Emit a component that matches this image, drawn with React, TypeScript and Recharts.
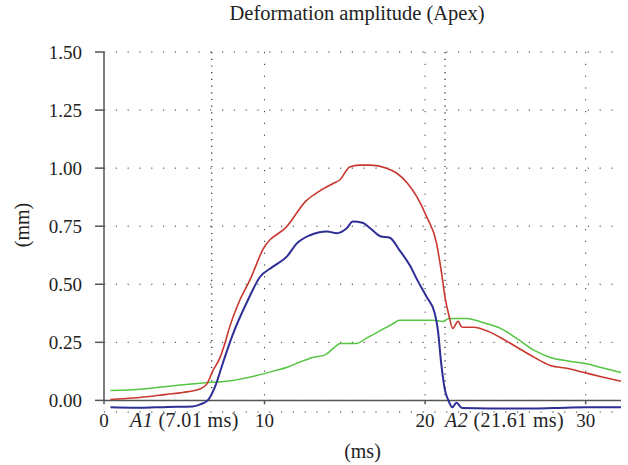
import React from 'react';
import { LineChart, Line, XAxis, YAxis, CartesianGrid, ReferenceLine, Label } from 'recharts';

// time (ms) / amplitude (mm), one pair of arrays per curve
const redTime = [0.4, 1.8, 3.9, 4.9, 6.0, 6.4, 6.8, 7.2, 7.55, 7.8, 8.45, 9.1, 9.9, 11.4, 12.6, 13.4, 14.3, 14.7, 15.3, 15.9, 16.6, 17.6, 18.2, 18.9, 19.5, 20.1, 20.7, 21.0, 21.25, 21.5, 21.72, 22.05, 22.3, 23.0, 24.0, 24.7, 25.7, 26.8, 27.8, 28.9, 29.9, 30.9, 32.2];
const redAmp = [0.004, 0.01, 0.026, 0.034, 0.05, 0.07, 0.13, 0.18, 0.25, 0.31, 0.43, 0.52, 0.65, 0.75, 0.86, 0.9, 0.935, 0.95, 1.005, 1.013, 1.013, 1.0, 0.98, 0.935, 0.875, 0.79, 0.68, 0.56, 0.44, 0.36, 0.31, 0.34, 0.315, 0.315, 0.295, 0.27, 0.23, 0.185, 0.15, 0.137, 0.12, 0.103, 0.082];

const blueTime = [0.4, 2.0, 4.0, 5.5, 6.0, 6.46, 6.9, 7.4, 8.0, 8.95, 9.7, 10.5, 11.4, 12.0, 12.8, 13.9, 14.5, 15.1, 15.5, 16.1, 16.6, 17.2, 17.8, 18.4, 19.1, 19.5, 20.1, 20.6, 20.8, 21.0, 21.24, 21.45, 21.7, 21.95, 22.3, 24.0, 26.0, 28.0, 30.0, 32.2];
const blueAmp = [-0.03, -0.032, -0.028, -0.026, -0.017, 0.0, 0.056, 0.16, 0.28, 0.43, 0.53, 0.575, 0.62, 0.675, 0.71, 0.727, 0.72, 0.74, 0.77, 0.765, 0.74, 0.707, 0.7, 0.647, 0.575, 0.52, 0.445, 0.375, 0.3, 0.16, 0.043, 0.0, -0.03, -0.01, -0.033, -0.035, -0.035, -0.033, -0.03, -0.03];

const greenTime = [0.4, 1.8, 3.9, 6.0, 8.0, 9.5, 10.5, 11.5, 12.2, 13.0, 13.75, 14.3, 14.7, 15.7, 16.4, 17.2, 18.0, 18.4, 19.5, 20.5, 21.1, 21.5, 22.6, 23.6, 24.7, 25.7, 26.8, 27.8, 28.9, 29.9, 30.9, 32.2];
const greenAmp = [0.043, 0.046, 0.06, 0.074, 0.086, 0.107, 0.125, 0.145, 0.165, 0.185, 0.195, 0.225, 0.245, 0.245, 0.27, 0.3, 0.33, 0.345, 0.345, 0.345, 0.34, 0.353, 0.353, 0.335, 0.31, 0.267, 0.215, 0.185, 0.17, 0.16, 0.143, 0.12];

const yTicks = [0, 0.25, 0.5, 0.75, 1, 1.25, 1.5];
const xTicks = [0, 10, 20, 30];
const gridX = [10, 20, 30];
const markers = [
  { name: 'A1', text: '(7.01 ms)', t: 6.71, anchor: 'end', dx: 27 },
  { name: 'A2', text: '(21.61 ms)', t: 21.24, anchor: 'start', dx: 0 },
];

const toPoints = (ts: number[], vs: number[]) => ts.map((t, i) => ({ t, v: vs[i] }));

const redData = toPoints(redTime, redAmp);
const blueData = toPoints(blueTime, blueAmp);
const greenData = toPoints(greenTime, greenAmp);

const serif = "'Liberation Serif', 'Times New Roman', serif";
const axisColor = '#555';

const markerLabel = (m: any) => (props: any) => {
  const vb = props.viewBox || {};
  const bottom = Math.max(vb.y, vb.y + vb.height);
  return (
    <text x={vb.x + m.dx} y={bottom + 27} textAnchor={m.anchor} fill="#222" fontSize={20} letterSpacing={0.4} fontFamily={serif}>
      <tspan fontStyle="italic">{m.name}</tspan> {m.text}
    </text>
  );
};

export default function App() {
  return (
    <div style={{ position: 'absolute', left: 0, top: 0, width: 628, height: 465, background: '#fff' }}>
      <div
        style={{
          position: 'absolute', left: 157, top: 3, width: 400, textAlign: 'center',
          fontFamily: serif, fontSize: 20.5, lineHeight: '20px', color: '#222',
        }}
      >
        Deformation amplitude (Apex)
      </div>
      <LineChart width={628} height={465} margin={{ top: 52, right: 7, bottom: 23, left: 0 }}>
        <CartesianGrid horizontal vertical={false} stroke="#333" strokeDasharray="1.2 10.6" />
        <XAxis
          type="number"
          dataKey="t"
          domain={[0, 32.2]}
          ticks={xTicks}
          axisLine={false}
          tickLine={false}
          tickSize={0}
          tickMargin={2}
          height={30}
          tick={{ fill: '#222', fontSize: 19, fontFamily: serif }}
          label={{ value: '(ms)', position: 'bottom', offset: 2, fill: '#222', fontSize: 20, fontFamily: serif }}
        />
        <YAxis
          type="number"
          domain={[-0.05, 1.5]}
          ticks={yTicks}
          axisLine={false}
          tickLine={{ stroke: axisColor, strokeWidth: 1.5 }}
          tickSize={9}
          tickMargin={13}
          width={104}
          tickFormatter={(v: number) => v.toFixed(2)}
          tick={{ fill: '#222', fontSize: 19, fontFamily: serif }}
          label={
            <Label
              content={(p: any) => {
                const vb = p.viewBox || {};
                const cx = vb.x + 22;
                const cy = vb.y + vb.height / 2 - 7;
                return (
                  <text x={cx} y={cy} transform={`rotate(-90, ${cx}, ${cy})`} textAnchor="middle" dominantBaseline="central" fill="#222" fontSize={20} fontFamily={serif}>
                    (mm)
                  </text>
                );
              }}
            />
          }
        />
        {gridX.map((x) => (
          <ReferenceLine key={'g' + x} segment={[{ x, y: 1.5 }, { x, y: 0 }]} stroke="#333" strokeDasharray="1.2 10.6" />
        ))}
        {markers.map((m) => (
          <ReferenceLine
            key={m.name}
            segment={[{ x: m.t, y: 1.5 }, { x: m.t, y: 0 }]}
            stroke="#222"
            strokeWidth={1.2}
            strokeDasharray="1.2 5.5"
            label={markerLabel(m)}
          />
        ))}
        <ReferenceLine y={0} stroke={axisColor} strokeWidth={1.5} />
        <ReferenceLine segment={[{ x: 0, y: -0.017 }, { x: 0, y: 1.5 }]} stroke={axisColor} strokeWidth={1.5} />
        {gridX.map((x) => (
          <ReferenceLine key={'t' + x} segment={[{ x, y: 0 }, { x, y: -0.017 }]} stroke={axisColor} strokeWidth={1.5} />
        ))}
        <Line data={greenData} dataKey="v" type="monotone" stroke="#55c443" strokeWidth={1.5} dot={false} isAnimationActive={false} />
        <Line data={redData} dataKey="v" type="monotone" stroke="#c9372e" strokeWidth={1.6} dot={false} isAnimationActive={false} />
        <Line data={blueData} dataKey="v" type="monotone" stroke="#2e2e96" strokeWidth={2} dot={false} isAnimationActive={false} />
      </LineChart>
    </div>
  );
}
